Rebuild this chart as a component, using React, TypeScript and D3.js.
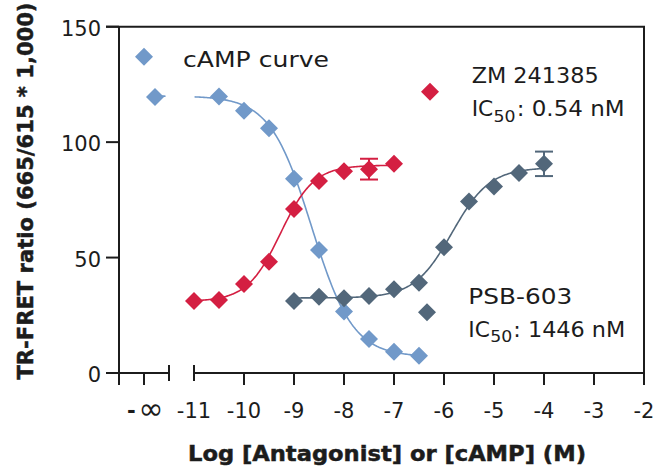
import React from 'react';
import * as d3 from 'd3';

// ---- data ----
const campLog = [-11.78, -10.5, -10, -9.5, -9, -8.5, -8, -7.5, -7, -6.5];
const campVal = [119.5, 119.8, 113.6, 106, 84.1, 53.3, 26.6, 14.7, 9.2, 7.5];

const zmLog = [-11, -10.5, -10, -9.5, -9, -8.5, -8, -7.5, -7];
const zmVal = [31.2, 31.6, 38.6, 48.2, 71, 83.2, 87.4, 88.3, 90.6];
const zmErr = [0, 0, 0, 0, 0, 0, 0, 4.5, 0];

const psbLog = [-9, -8.5, -8, -7.5, -7, -6.5, -6, -5.5, -5, -4.5, -4];
const psbVal = [31.2, 33, 32.4, 33.4, 36.3, 39.1, 54.5, 74.3, 80.8, 86.6, 90.6];
const psbErr = [0, 0, 0, 0, 0, 0, 0, 0, 0, 0, 5.3];

const yTicks = [0, 50, 100, 150];
const xTicks = [-11, -10, -9, -8, -7, -6, -5, -4, -3, -2];
const infTick = -12;

// fitted 4PL parameters
const campFit = { bottom: 7, top: 120, logC: -8.65, hill: -1.05, from: -11.78, to: -6.5 };
const zmFit = { bottom: 31, top: 90, logC: -9.27, hill: 1.3, from: -11, to: -7 };
const psbFit = { bottom: 32.5, top: 89, logC: -5.84, hill: 1.15, from: -9, to: -4 };

const BLUE = '#7199c9';
const RED = '#d41f42';
const SLATE = '#52677a';
const INK = '#1c1c1c';
const FONT = "'DejaVu Sans', sans-serif";

const x = d3.scaleLinear().domain([-12.5, -2]).range([119, 644]);
const y = d3.scaleLinear().domain([0, 150]).range([373, 26.7]);

const breakLo = -11.5;
const breakHi = -11;

function logistic(f: any, v: number) {
  return f.bottom + (f.top - f.bottom) / (1 + Math.pow(10, (f.logC - v) * f.hill));
}

function curvePath(f: any) {
  const n = 200;
  const pts: [number, number, boolean][] = [];
  for (let i = 0; i <= n; i++) {
    const v = f.from + ((f.to - f.from) * i) / n;
    const gap = v > breakLo - 0.05 && v < breakHi;
    pts.push([x(v), y(logistic(f, v)), !gap]);
  }
  const line = d3
    .line<[number, number, boolean]>()
    .defined((d) => d[2])
    .x((d) => d[0])
    .y((d) => d[1])
    .curve(d3.curveLinear);
  return line(pts) || '';
}

function diamond(cx: number, cy: number, r = 9) {
  return `M${cx},${cy - r}L${cx + r},${cy}L${cx},${cy + r}L${cx - r},${cy}Z`;
}

function Series({ xs, vs, errs, color }: { xs: number[]; vs: number[]; errs?: number[]; color: string }) {
  return (
    <g>
      {xs.map((lv, i) => {
        const cx = x(lv);
        const cy = y(vs[i]);
        const e = errs ? errs[i] : 0;
        return (
          <g key={i}>
            {e > 0 && (
              <g stroke={color} strokeWidth={2}>
                <line x1={cx} x2={cx} y1={y(vs[i] + e)} y2={y(vs[i] - e)} />
                <line x1={cx - 9} x2={cx + 9} y1={y(vs[i] + e)} y2={y(vs[i] + e)} />
                <line x1={cx - 9} x2={cx + 9} y1={y(vs[i] - e)} y2={y(vs[i] - e)} />
              </g>
            )}
            <path d={diamond(cx, cy)} fill={color} />
          </g>
        );
      })}
    </g>
  );
}

export default function App() {
  const x0 = x(-12.5);
  const xR = x(-2);
  const yB = y(0);
  const yT = y(150);
  return (
    <svg width={657} height={472} style={{ position: 'absolute', left: 0, top: 0, background: '#fff' }}>
      <rect width={657} height={472} fill="#fff" />
      {/* frame */}
      <g stroke={INK} strokeWidth={2} fill="none">
        <line x1={x0} x2={x0} y1={yT} y2={yB + 12} />
        <line x1={x0 - 13} x2={xR + 1} y1={yT} y2={yT} />
        <line x1={xR} x2={xR} y1={yT} y2={yB + 12} />
        {/* x axis segments */}
        <line x1={x0} x2={x(breakLo)} y1={yB} y2={yB} />
        <line x1={x(breakHi)} x2={xR} y1={yB} y2={yB} />
        <line x1={x(infTick)} x2={x(infTick)} y1={yB} y2={yB + 12} />
        <line x1={x(breakLo)} x2={x(breakLo)} y1={yB - 8} y2={yB + 8} />
        <line x1={x(breakHi)} x2={x(breakHi)} y1={yB - 8} y2={yB + 8} />
        {xTicks.filter((t) => t !== -11 && t !== -2).map((t) => (
          <line key={t} x1={x(t)} x2={x(t)} y1={yB} y2={yB + 12} />
        ))}
        {yTicks.map((t) => (
          <line key={t} x1={x0 - 13} x2={x0} y1={y(t)} y2={y(t)} />
        ))}
      </g>
      {/* tick labels */}
      <g fontFamily={FONT} fontSize={21} fill={INK}>
        {yTicks.map((t) => (
          <text key={t} x={101} y={y(t) + 9} textAnchor="end">{t}</text>
        ))}
        {xTicks.map((t) => (
          <text key={t} x={x(t)} y={418} textAnchor="middle">{t}</text>
        ))}
        <text x={x(infTick) - 17} y={418} fontWeight="bold">-</text>
        <text x={x(infTick) + 7} y={419} fontSize={30} textAnchor="middle">∞</text>
      </g>
      {/* axis titles */}
      <text
        transform="translate(33,191) rotate(-90)"
        textAnchor="middle"
        fontFamily={FONT}
        fontWeight="bold"
        fontSize={21}
        fill={INK}
        stroke={INK}
        strokeWidth={0.5}
        textLength={377}
        lengthAdjust="spacingAndGlyphs"
      >
        TR-FRET ratio (665/615 * 1,000)
      </text>
      <text
        x={387}
        y={461}
        textAnchor="middle"
        fontFamily={FONT}
        fontWeight="bold"
        fontSize={21}
        fill={INK}
        stroke={INK}
        strokeWidth={0.5}
        textLength={398}
        lengthAdjust="spacingAndGlyphs"
      >
        Log [Antagonist] or [cAMP] (M)
      </text>
      {/* curves */}
      <g fill="none" strokeWidth={1.6}>
        <path d={curvePath(campFit)} stroke={BLUE} />
        <path d={curvePath(zmFit)} stroke={RED} />
        <path d={curvePath(psbFit)} stroke={SLATE} />
      </g>
      <Series xs={campLog} vs={campVal} color={BLUE} />
      <Series xs={zmLog} vs={zmVal} errs={zmErr} color={RED} />
      <Series xs={psbLog} vs={psbVal} errs={psbErr} color={SLATE} />
      {/* legends / annotations */}
      <path d={diamond(144, 56.7)} fill={BLUE} />
      <path d={diamond(430, 91.7)} fill={RED} />
      <path d={diamond(427, 312.3)} fill={SLATE} />
      <g fontFamily={FONT} fontSize={21} fill={INK}>
        <text x={183} y={67} textLength={146} lengthAdjust="spacingAndGlyphs">cAMP curve</text>
        <text x={471.7} y={83.3} textLength={127} lengthAdjust="spacingAndGlyphs">ZM 241385</text>
        <text x={471.7} y={115.7} textLength={21.6} lengthAdjust="spacingAndGlyphs">IC</text>
        <text x={493.5} y={121.7} fontSize={15} textLength={22} lengthAdjust="spacingAndGlyphs">50</text>
        <text x={516.7} y={115.7} textLength={108} lengthAdjust="spacingAndGlyphs">: 0.54 nM</text>
        <text x={468.3} y={304} textLength={104} lengthAdjust="spacingAndGlyphs">PSB-603</text>
        <text x={468.3} y={336.7} textLength={21.6} lengthAdjust="spacingAndGlyphs">IC</text>
        <text x={490.2} y={341.7} fontSize={15} textLength={22} lengthAdjust="spacingAndGlyphs">50</text>
        <text x={513.3} y={336.7} textLength={112} lengthAdjust="spacingAndGlyphs">: 1446 nM</text>
      </g>
    </svg>
  );
}
